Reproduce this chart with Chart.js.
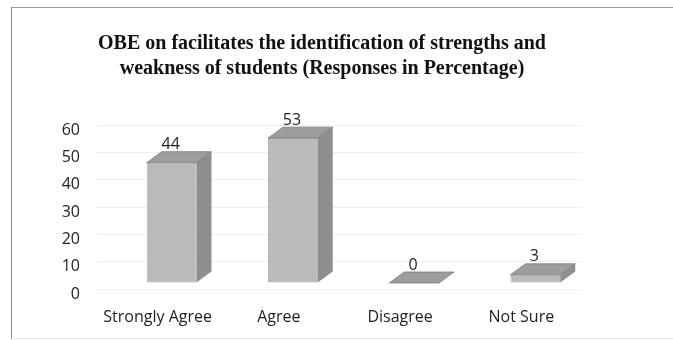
<!DOCTYPE html>
<html>
<head>
<meta charset="utf-8">
<script src="https://cdn.jsdelivr.net/npm/chart.js@4"></script>
<style>
  html, body { margin: 0; padding: 0; background: #fff; overflow: hidden; }
  #wrap { position: relative; width: 673px; height: 340px; overflow: hidden; }
  #frame {
    position: absolute; left: 11px; top: 7px; right: -10px; bottom: 1px;
    border-left: 1px solid #8a8a8a; border-top: 1px solid #9a9a9a; border-bottom: 1px solid #e6e6e6;
    pointer-events: none;
  }
</style>
</head>
<body>
<div id="wrap">
  <canvas id="obeChart" width="673" height="340"></canvas>
  <div id="frame"></div>
</div>
<script>
// responses in percentage
const categories = ["Strongly Agree", "Agree", "Disagree", "Not Sure"];
const responses = [44, 53, 0, 3];
const yTicks = [0, 10, 20, 30, 40, 50, 60];

// 3D look: front face shift and box depth
const FRONT_DX = 14, FRONT_DY = -6;
const DEPTH_X = 15, DEPTH_Y = -11;

const tickFont = { family: "'Open Sans', 'Noto Sans', sans-serif", size: 16 };

const bars3d = {
  id: "bars3d",
  beforeDatasetsDraw(chart) {
    chart.ctx.save();
    chart.ctx.translate(FRONT_DX, FRONT_DY);
  },
  afterDatasetsDraw(chart) {
    const ctx = chart.ctx;
    ctx.restore();
    const meta = chart.getDatasetMeta(0);
    meta.data.forEach((bar, i) => {
      const p = bar.getProps(["x", "y", "base", "width"], true);
      const L = p.x - p.width / 2 + FRONT_DX;
      const R = p.x + p.width / 2 + FRONT_DX;
      const T = p.y + FRONT_DY;
      const B = p.base + FRONT_DY;

      ctx.save();
      ctx.lineWidth = 0.8;
      ctx.strokeStyle = "#7a7a7a";

      // side face
      ctx.beginPath();
      ctx.moveTo(R, T);
      ctx.lineTo(R + DEPTH_X, T + DEPTH_Y);
      ctx.lineTo(R + DEPTH_X, B + DEPTH_Y);
      ctx.lineTo(R, B);
      ctx.closePath();
      ctx.fillStyle = "#8e8e8e";
      ctx.fill();

      // top face
      ctx.beginPath();
      ctx.moveTo(L, T);
      ctx.lineTo(L + DEPTH_X, T + DEPTH_Y);
      ctx.lineTo(R + DEPTH_X, T + DEPTH_Y);
      ctx.lineTo(R, T);
      ctx.closePath();
      ctx.fillStyle = "#9d9d9d";
      ctx.fill();
      ctx.stroke();

      // value label
      ctx.fillStyle = "#1e1e1e";
      ctx.font = "16px 'Open Sans', 'Noto Sans', sans-serif";
      ctx.textAlign = "center";
      ctx.textBaseline = "middle";
      ctx.fillText(String(responses[i]), (L + R) / 2 - 1, T - 18);
      ctx.restore();
    });
  }
};

new Chart(document.getElementById("obeChart"), {
  type: "bar",
  data: {
    labels: categories,
    datasets: [{
      data: responses,
      backgroundColor: "#bababa",
      borderColor: "#9a9a9a",
      borderWidth: 0.8,
      barPercentage: 0.41,
      categoryPercentage: 1,
      clip: false
    }]
  },
  options: {
    responsive: false,
    animation: false,
    devicePixelRatio: 1,
    layout: { padding: { left: 62, right: 91, top: 0, bottom: 0 } },
    plugins: {
      legend: { display: false },
      tooltip: { enabled: false },
      title: {
        display: true,
        text: [
          "OBE on facilitates the identification of strengths and",
          "weakness of students (Responses in Percentage)"
        ],
        color: "#111",
        font: { family: "'Liberation Serif', 'DejaVu Serif', serif", size: 20, weight: "bold", lineHeight: 1.25 },
        padding: { top: 31, bottom: 44 }
      }
    },
    scales: {
      x: {
        grid: { display: false, drawTicks: false },
        border: { display: false },
        ticks: { color: "#1e1e1e", font: tickFont, padding: 19, maxRotation: 0 },
        afterFit(scale) { scale.height = 51; }
      },
      y: {
        min: 0,
        max: 60,
        afterBuildTicks(scale) { scale.ticks = yTicks.map(v => ({ value: v })); },
        grid: { color: "#efefef", drawTicks: false, lineWidth: 1 },
        border: { display: false },
        ticks: { color: "#1e1e1e", font: tickFont, padding: 17, labelOffset: 5 },
        afterFit(scale) { scale.width = 35; }
      }
    }
  },
  plugins: [bars3d]
});
</script>
</body>
</html>
